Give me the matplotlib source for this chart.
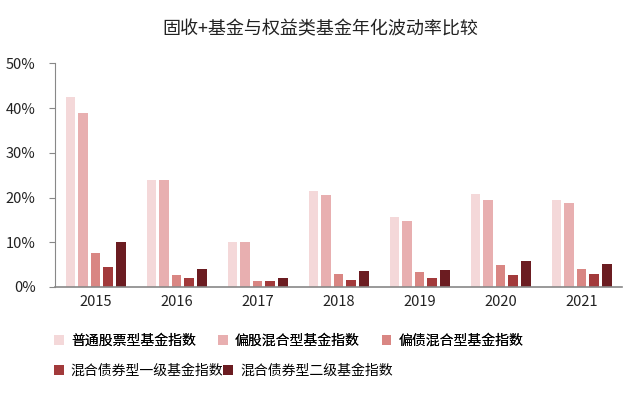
import numpy as np
from matplotlib import pyplot as plt
from matplotlib.patches import Patch

plt.rcParams['font.family'] = ['Noto Sans CJK SC', 'DejaVu Sans']

years = ['2015', '2016', '2017', '2018', '2019', '2020', '2021']
series_names = ['普通股票型基金指数', '偏股混合型基金指数', '偏债混合型基金指数',
                '混合债券型一级基金指数', '混合债券型二级基金指数']
stock = [42.5, 24.0, 10.1, 21.5, 15.6, 20.8, 19.4]
mixed_stock = [38.9, 24.0, 10.1, 20.5, 14.7, 19.4, 18.8]
mixed_bond = [7.7, 2.7, 1.3, 3.0, 3.3, 4.9, 4.1]
bond_first = [4.5, 2.1, 1.3, 1.6, 1.9, 2.6, 2.9]
bond_second = [10.1, 4.1, 1.9, 3.6, 3.8, 5.7, 5.2]
colors = ['#f4d8d9', '#e8afb0', '#d98683', '#a23a3b', '#6b1c21']

values = [stock, mixed_stock, mixed_bond, bond_first, bond_second]

fig = plt.figure(figsize=(6.4, 3.94), dpi=100)
ax = fig.add_axes([0.086, 0.2716, 0.886, 0.5677])

x = np.arange(len(years))
step = 0.156
width = 0.117
for i, (vals, c) in enumerate(zip(values, colors)):
    ax.bar(x + (i - 2) * step, vals, width=width, color=c, label=series_names[i])

ax.set_xlim(-0.5, 6.5)
ax.set_ylim(0, 50)
ax.set_yticks([0, 10, 20, 30, 40, 50])
ax.set_yticklabels(['{}%'.format(v) for v in range(0, 60, 10)])
ax.set_xticks(x)
ax.set_xticklabels(years)
ax.tick_params(axis='x', length=0, pad=6, labelsize=10.5, colors='#222222')
ax.tick_params(axis='y', length=4, width=0.8, color='#888888', pad=10,
               labelsize=10.5, labelcolor='#222222')
for s in ['top', 'right']:
    ax.spines[s].set_visible(False)
ax.spines['left'].set_color('#888888')
ax.spines['bottom'].set_color('#888888')
ax.spines['left'].set_linewidth(0.8)
ax.spines['bottom'].set_linewidth(1.2)

fig.text(0.5, 0.925, '固收+基金与权益类基金年化波动率比较', ha='center', va='center',
         fontsize=13, color='#222222')

handles = [Patch(facecolor=c, edgecolor='none') for c in colors]
leg1 = fig.legend(handles[:3], series_names[:3], loc='center left',
                  bbox_to_anchor=(0.065, 0.135), ncol=3, frameon=False,
                  fontsize=10, handlelength=0.7, handleheight=0.7,
                  handletextpad=0.5, columnspacing=1.6)
leg2 = fig.legend(handles[3:], series_names[3:], loc='center left',
                  bbox_to_anchor=(0.065, 0.058), ncol=2, frameon=False,
                  fontsize=10, handlelength=0.7, handleheight=0.7,
                  handletextpad=0.5, columnspacing=0.0)
fig.add_artist(leg1)

plt.savefig('out.png', dpi=100)
